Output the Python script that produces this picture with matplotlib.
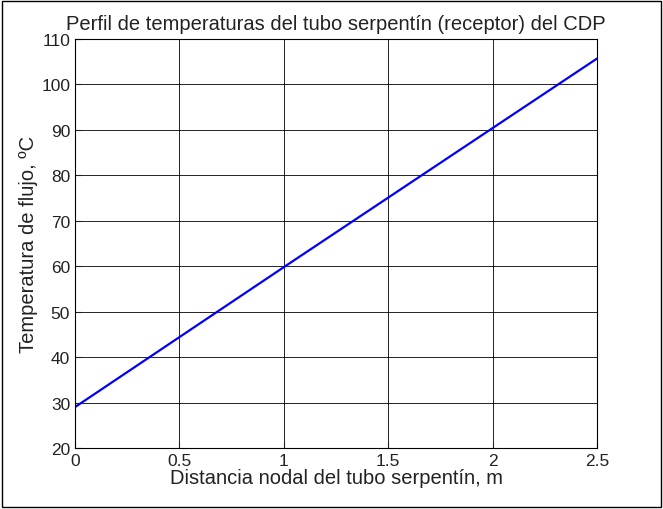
import matplotlib
matplotlib.use("Agg")
import matplotlib.pyplot as plt
from matplotlib.patches import Rectangle

x = [0, 0.5, 1.0, 1.5, 2.0, 2.5]
temp = [29.0, 44.4, 59.8, 75.1, 90.4, 105.7]
xticks = [0, 0.5, 1, 1.5, 2, 2.5]
xticklabels = ["0", "0.5", "1", "1.5", "2", "2.5"]
yticks = list(range(20, 111, 10))

fig = plt.figure(figsize=(6.63, 5.10), dpi=100)
plt.rcParams['font.family'] = ['Liberation Sans', 'DejaVu Sans']
ax = fig.add_axes([75/663, 1-449/510, (597-75)/663, (449-40)/510])
ax.plot(x, temp, color='#0000ff', lw=1.6)
ax.set_xlim(0, 2.5)
ax.set_ylim(20, 110)
ax.set_xticks(xticks)
ax.set_xticklabels(xticklabels)
ax.set_yticks(yticks)
ax.grid(True, color='black', lw=0.6)
ax.tick_params(labelsize=12.5, direction='in', length=4, colors='#222222')
ax.set_xlabel("Distancia nodal del tubo serpentín, m", fontsize=14.5, labelpad=0, color='#222222')
ax.set_ylabel("Temperatura de flujo, ºC", fontsize=14.5, labelpad=2, color='#222222')
ax.set_title("Perfil de temperaturas del tubo serpentín (receptor) del CDP", fontsize=14.5, pad=7, color='#222222')
fig.patches.append(Rectangle((0.003, 0.003), 0.994, 0.994, transform=fig.transFigure,
                             fill=False, edgecolor='black', lw=1))
fig.savefig("out.png", dpi=100)
